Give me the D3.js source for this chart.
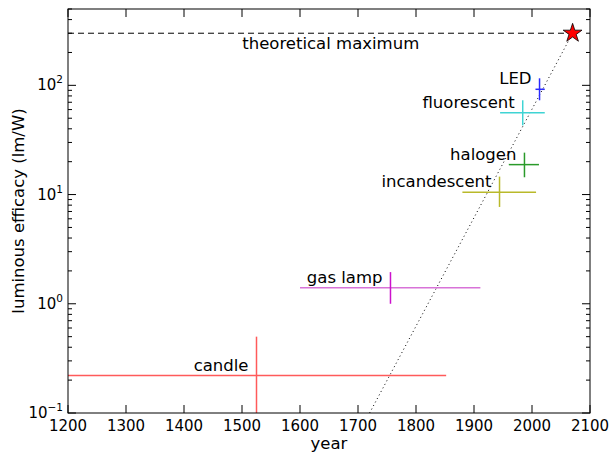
<!DOCTYPE html>
<html><head><meta charset="utf-8">
<script src="https://cdn.jsdelivr.net/npm/d3@7"></script>
<style>body{margin:0;background:#fff}svg{display:block}text{font-family:"DejaVu Sans",sans-serif;fill:#000}</style>
</head><body><svg id="c" width="611" height="454"></svg>
<script>
const sources = ["candle","gas lamp","incandescent","halogen","fluorescent","LED"];
const years = [1525, 1756, 1944, 1987, 1984, 2013];
const yearLow = [1200, 1600, 1880, 1960, 1945, 2006];
const yearHigh = [1852, 1911, 2007, 2012, 2022, 2022];
const efficacy = [0.22, 1.4, 10.5, 18.8, 56, 92];
const effLow = [0.05, 1.0, 7.7, 14.4, 43, 73];
const effHigh = [0.5, 1.95, 14.6, 24.2, 73, 116];
const colorsV = ["#ff5a5a","#cc11cc","#b9b92a","#2a9a2a","#3fd4d4","#2a2aff"];
const colorsH = ["#ff5a5a","#d873d8","#b9b92a","#2a9a2a","#3fd4d4","#2a2aff"];
const theoreticalMax = 300;
const maxYear = 2070;
const trendYears = [1720, 2070];
const trendEff = [0.1, 300];
const xTicks = [1200,1300,1400,1500,1600,1700,1800,1900,2000,2100];
const yTicks = [0.1, 1, 10, 100];
const yTickExp = ["−1","0","1","2"];

const svg = d3.select("#c");
const L=68, R=590, T=9, B=413;
const x = d3.scaleLinear().domain([1200,2100]).range([L,R]);
const y = d3.scaleLog().domain([0.1,500]).range([B,T]);

svg.append("defs").append("clipPath").attr("id","clip")
  .append("rect").attr("x",L).attr("y",T).attr("width",R-L).attr("height",B-T);
const plot = svg.append("g").attr("clip-path","url(#clip)");

// theoretical maximum dashed line
plot.append("line").attr("x1",x(1200)).attr("x2",x(maxYear))
  .attr("y1",y(theoreticalMax)).attr("y2",y(theoreticalMax))
  .attr("stroke","#000").attr("stroke-width",1).attr("stroke-dasharray","6,4");
svg.append("text").attr("x",x(1653)).attr("y",y(theoreticalMax)+16)
  .attr("text-anchor","middle").attr("font-size",16.5).text("theoretical maximum");

// trend dotted line
plot.append("path")
  .attr("d", d3.line().x(d=>x(d[0])).y(d=>y(d[1]))(d3.zip(trendYears,trendEff)))
  .attr("stroke","#000").attr("stroke-width",1).attr("stroke-dasharray","1,3").attr("fill","none");

// error bars
sources.forEach((s,i)=>{
  plot.append("line").attr("x1",x(yearLow[i])).attr("x2",x(yearHigh[i]))
    .attr("y1",y(efficacy[i])).attr("y2",y(efficacy[i]))
    .attr("stroke",colorsH[i]).attr("stroke-width",1.5);
  plot.append("line").attr("x1",x(years[i])).attr("x2",x(years[i]))
    .attr("y1",y(effLow[i])).attr("y2",y(effHigh[i]))
    .attr("stroke",colorsV[i]).attr("stroke-width",1.5);
  svg.append("text").attr("x",x(years[i])-8).attr("y",y(efficacy[i])-5)
    .attr("text-anchor","end").attr("font-size",16.5).text(s);
});

// star
const star = d3.symbol().type(d3.symbolStar).size(110);
svg.append("path").attr("d",star()).attr("transform",`translate(${x(maxYear)},${y(theoreticalMax)})`)
  .attr("fill","#ff0000").attr("stroke","#000").attr("stroke-width",0.8);

// frame
svg.append("rect").attr("x",L).attr("y",T).attr("width",R-L).attr("height",B-T)
  .attr("fill","none").attr("stroke","#000").attr("stroke-width",1);

// x ticks
const tg = svg.append("g").attr("stroke","#000").attr("stroke-width",1);
xTicks.forEach(t=>{
  tg.append("line").attr("x1",x(t)).attr("x2",x(t)).attr("y1",B).attr("y2",B-8);
  tg.append("line").attr("x1",x(t)).attr("x2",x(t)).attr("y1",T).attr("y2",T+8);
  svg.append("text").attr("x",x(t)).attr("y",B+18).attr("text-anchor","middle")
    .attr("font-size",15).text(t);
});
// y ticks
const minor = [];
for (let e=-1;e<=2;e++) for (let m=2;m<=9;m++){ const v=m*Math.pow(10,e); if(v<=500) minor.push(v); }
minor.forEach(v=>{
  tg.append("line").attr("x1",L).attr("x2",L+4).attr("y1",y(v)).attr("y2",y(v));
  tg.append("line").attr("x1",R).attr("x2",R-4).attr("y1",y(v)).attr("y2",y(v));
});
yTicks.forEach((t,i)=>{
  tg.append("line").attr("x1",L).attr("x2",L+8).attr("y1",y(t)).attr("y2",y(t));
  tg.append("line").attr("x1",R).attr("x2",R-8).attr("y1",y(t)).attr("y2",y(t));
  const tx = svg.append("text").attr("x",L-5).attr("y",y(t)+5).attr("text-anchor","end").attr("font-size",15);
  tx.append("tspan").text("10");
  tx.append("tspan").attr("dy",-7).attr("font-size",10.5).text(yTickExp[i]);
});

// axis labels
svg.append("text").attr("x",(L+R)/2).attr("y",449).attr("text-anchor","middle")
  .attr("font-size",16.5).text("year");
svg.append("text").attr("transform",`translate(24,${(T+B)/2}) rotate(-90)`)
  .attr("text-anchor","middle").attr("font-size",16.5).text("luminous efficacy (lm/W)");
</script></body></html>
